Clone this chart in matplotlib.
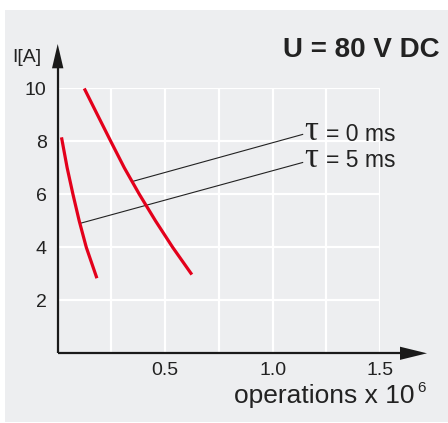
import matplotlib
matplotlib.use("Agg")
import matplotlib.pyplot as plt
from matplotlib.patches import Rectangle, Polygon

plt.rcParams['font.family'] = ['Liberation Sans', 'DejaVu Sans']

# ---- data ----
curve_tau5_x = [0.019, 0.044, 0.071, 0.100, 0.133, 0.180]
curve_tau5_y = [8.09, 7.00, 6.00, 5.00, 4.00, 2.89]
curve_tau0_x = [0.127, 0.185, 0.247, 0.310, 0.380, 0.455, 0.535, 0.620]
curve_tau0_y = [9.94, 9.00, 8.00, 7.00, 6.00, 5.00, 4.00, 3.02]

# leader lines: (point on curve) -> (label anchor)
leader_tau0 = [(0.346, 6.48), (1.14, 8.26)]
leader_tau5 = [(0.107, 4.91), (1.14, 7.2)]
label_sym = "τ\nτ"
label_tau0 = "= 0 ms"
label_tau5 = "= 5 ms"
label_sym_x = 1.149
label_text_x = 1.248
label_base_tau0 = 8.02
label_base_tau5 = 7.03

x_major = [0.5, 1.0, 1.5]
x_major_labels = ["0.5", "1.0", "1.5"]
x_minor = [0.25, 0.75, 1.25]
y_ticks = [2, 4, 6, 8, 10]
y_tick_labels = ["2", "4", "6", "8", "10"]

title = "U = 80 V DC"
ylabel = "I[A]"
xlabel = "operations x 10"
xlabel_sup = "6"

W, H = 448, 423
fig = plt.figure(figsize=(W / 100, H / 100), dpi=100, facecolor="white")
panel_color = "#edeef0"
fig.patches.append(Rectangle((5 / W, 1 - 421.5 / H), (W - 5) / W, (421.5 - 10) / H,
                             transform=fig.transFigure, facecolor=panel_color,
                             edgecolor="none", zorder=-10))

x0, x1 = 57.7, 380.0
y0, y1 = 353.3, 88.3
ax = fig.add_axes([x0 / W, 1 - y0 / H, (x1 - x0) / W, (y0 - y1) / H])
ax.set_zorder(2)
ax.set_facecolor(panel_color)
ax.set_xlim(0, 1.5)
ax.set_ylim(0, 10)

ax.set_xticks(x_major)
ax.set_xticklabels(x_major_labels)
ax.set_xticks(x_minor, minor=True)
ax.set_yticks(y_ticks)
ax.set_yticklabels(y_tick_labels)
ax.tick_params(which="both", length=0)
ax.tick_params(axis="x", pad=6.5, labelsize=14, labelcolor="#222222")
ax.tick_params(axis="y", pad=8, labelsize=14, labelcolor="#222222")
ax.grid(True, which="both", color="white", linewidth=1.6, zorder=1)
ax.set_axisbelow(True)
for s in ax.spines.values():
    s.set_visible(False)

axis_color = "#1a1a1a"
# axis lines with arrowheads (axes fraction coordinates)
axw, axh = x1 - x0, y0 - y1
xtip = (427 - x0) / axw
xbase = (400 - x0) / axw
ytip = (y0 - 44) / axh
ybase = (y0 - 68.3) / axh
ax.plot([0, xbase], [0, 0], transform=ax.transAxes, color=axis_color, lw=1.6,
        clip_on=False, zorder=5, solid_capstyle="butt")
ax.plot([0, 0], [0, ybase], transform=ax.transAxes, color=axis_color, lw=1.6,
        clip_on=False, zorder=5, solid_capstyle="butt")
hx = 6.6 / axh
ax.add_patch(Polygon([(xbase, -hx), (xtip, 0), (xbase, hx)], closed=True,
                     transform=ax.transAxes, facecolor=axis_color, edgecolor="none",
                     clip_on=False, zorder=5))
hy = 5.7 / axw
ax.add_patch(Polygon([(-hy, ybase), (0, ytip), (hy, ybase)], closed=True,
                     transform=ax.transAxes, facecolor=axis_color, edgecolor="none",
                     clip_on=False, zorder=5))

red = "#e3001b"
ax.plot(curve_tau5_x, curve_tau5_y, color=red, lw=2.3, zorder=4, clip_on=False,
        solid_joinstyle="round")
ax.plot(curve_tau0_x, curve_tau0_y, color=red, lw=2.3, zorder=4, clip_on=False,
        solid_joinstyle="round")

for (p, q) in (leader_tau0, leader_tau5):
    ax.plot([p[0], q[0]], [p[1], q[1]], color="#222222", lw=0.8, zorder=3, clip_on=False)

# both tau symbols in one text block (last line sits on the tau=5 baseline)
ax.text(label_sym_x, label_base_tau5, label_sym, ha="left", va="baseline", fontsize=25,
        family=["Liberation Serif", "DejaVu Serif"], color="#222222",
        linespacing=0.778, clip_on=False, zorder=6)
for base, txt in ((label_base_tau0, label_tau0), (label_base_tau5, label_tau5)):
    ax.text(label_text_x, base, txt, ha="left", va="baseline", fontsize=16.5,
            color="#222222", clip_on=False, zorder=6)

fig.text(440 / W, 1 - 57.3 / H, title, ha="right", va="baseline", fontsize=20,
         fontweight="bold", color="#222222", zorder=5)
fig.text(12.7 / W, 1 - 61.5 / H, ylabel, ha="left", va="baseline", fontsize=14,
         color="#222222", zorder=5)
fig.text(234 / W, 1 - 403.3 / H, xlabel, ha="left", va="baseline", fontsize=19,
         color="#222222", zorder=5)
fig.text(417 / W, 1 - 391.7 / H, xlabel_sup, ha="left", va="baseline", fontsize=11,
         color="#222222", zorder=5)

fig.savefig("out.png", dpi=100, facecolor="white")
